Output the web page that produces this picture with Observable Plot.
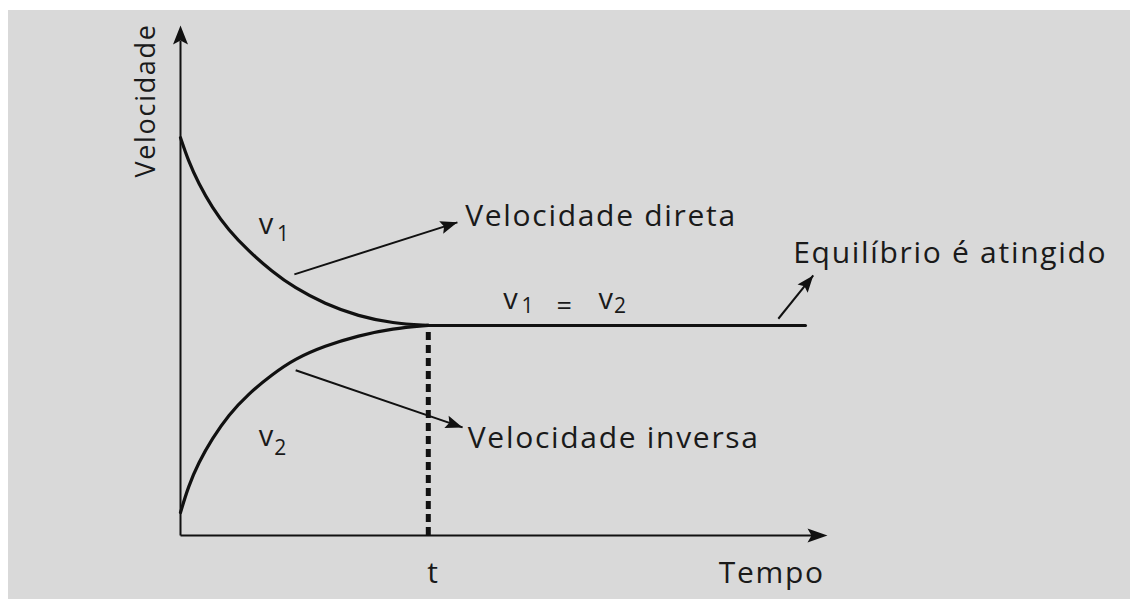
<!DOCTYPE html>
<html>
<head>
<meta charset="utf-8">
<script src="https://cdn.jsdelivr.net/npm/d3@7"></script>
<script src="https://cdn.jsdelivr.net/npm/@observablehq/plot@0.6"></script>
<style>
  html, body { margin: 0; padding: 0; background: #ffffff; }
  #chart { position: absolute; left: 8px; top: 10px; width: 1122px; height: 589px; background: #d9d9d9; }
  #chart svg text { letter-spacing: 1.7px; }
</style>
</head>
<body>
<div id="chart"></div>
<script>
// ---- data ----
const time = [0, 1.2, 2.8, 4.9, 7.4, 10.5, 14.2, 17.6, 22.3, 27.5, 32.8, 38.3];
const v1 = [78.0, 73.5, 69.0, 64.3, 59.9, 55.8, 51.7, 48.6, 45.4, 43.0, 41.6, 41.2];
const v2 = [4.5, 9.6, 14.3, 19.0, 23.6, 27.8, 31.6, 34.6, 37.2, 39.2, 40.6, 41.2];
const equilibriumTime = [38.3, 96.6];
const equilibriumValue = 41.2;
const tEquilibrium = 38.3;

const textLabels = ["Velocidade direta", "Equilíbrio é atingido", "Velocidade inversa", "Tempo"];
const textX = [44.0, 94.7, 44.4, 83.2];
const textY = [60.6, 53.5, 17.1, -9.4];

const varBase = ["v", "v", "v", "v"];
const varSub = ["1", "2", "1", "2"];
const varX = [12.1, 12.1, 49.9, 64.6];
const varY = [59.2, 17.5, 44.5, 44.5];
const subX = [14.9, 14.5, 52.7, 67.0];
const subY = [57.8, 15.7, 43.7, 43.7];

const arrowFrom = [[17.6, 51.2], [17.8, 32.4], [92.4, 42.5]];
const arrowTo = [[42.8, 61.4], [43.6, 21.2], [97.8, 51.0]];

// ---- layout ----
const W = 1122, H = 589;
const mL = 172, mR = 303, mT = 15, mB = 64;
const xDomain = [0, 100], yDomain = [0, 100];
const sx = v => mL + (v - xDomain[0]) / (xDomain[1] - xDomain[0]) * (W - mL - mR);
const sy = v => (H - mB) - (v - yDomain[0]) / (yDomain[1] - yDomain[0]) * (H - mB - mT);

const curveV1 = time.map((t, i) => ({t, v: v1[i]}));
const curveV2 = time.map((t, i) => ({t, v: v2[i]}));
const eqLine = equilibriumTime.map(t => ({t, v: equilibriumValue}));
const texts = textLabels.map((s, i) => ({s, x: textX[i], y: textY[i]}));
const vars = varBase.map((s, i) => ({s, x: varX[i], y: varY[i]}));
const subs = varSub.map((s, i) => ({s, x: subX[i], y: subY[i]}));
const arrows = arrowFrom.map((f, i) => ({x1: f[0], y1: f[1], x2: arrowTo[i][0], y2: arrowTo[i][1]}));

// filled arrowhead symbol with the tip at the origin
function head(x1, y1, x2, y2, len, wid, notch) {
  let dx = sx(x2) - sx(x1), dy = sy(y2) - sy(y1);
  const n = Math.hypot(dx, dy); dx /= n; dy /= n;
  const px = -dy, py = dx;
  return {
    draw(ctx) {
      ctx.moveTo(0, 0);
      ctx.lineTo(-len * dx + wid / 2 * px, -len * dy + wid / 2 * py);
      ctx.lineTo(-(len - notch) * dx, -(len - notch) * dy);
      ctx.lineTo(-len * dx - wid / 2 * px, -len * dy - wid / 2 * py);
      ctx.closePath();
    }
  };
}

const ink = "#111";
const txt = "#1a1a1a";
const marks = [
  // axes
  Plot.link([{x1: 0, y1: 0, x2: 0, y2: 97}, {x1: 0, y1: 0, x2: 98, y2: 0}],
    {x1: "x1", y1: "y1", x2: "x2", y2: "y2", stroke: ink, strokeWidth: 2}),
  Plot.dot([{x: 0, y: 100}], {x: "x", y: "y", fill: ink, stroke: null, symbol: head(0, 0, 0, 100, 19, 15, 4)}),
  Plot.dot([{x: 100, y: 0}], {x: "x", y: "y", fill: ink, stroke: null, symbol: head(0, 0, 100, 0, 20, 14, 4)}),
  // dashed time marker
  Plot.ruleX([tEquilibrium], {y1: 0, y2: equilibriumValue, stroke: ink, strokeWidth: 5, strokeDasharray: "8,5"}),
  // curves
  Plot.line(curveV1, {x: "t", y: "v", curve: "basis", stroke: ink, strokeWidth: 3.2}),
  Plot.line(curveV2, {x: "t", y: "v", curve: "basis", stroke: ink, strokeWidth: 3.2}),
  Plot.line(eqLine, {x: "t", y: "v", stroke: ink, strokeWidth: 3}),
  // annotation arrows
  Plot.link(arrows, {x1: "x1", y1: "y1", x2: "x2", y2: "y2", stroke: ink, strokeWidth: 2}),
  ...arrows.map(a => Plot.dot([a], {x: "x2", y: "y2", fill: ink, stroke: null,
    symbol: head(a.x1, a.y1, a.x2, a.y2, 17, 13, 3)})),
  // texts
  Plot.text(texts, {x: "x", y: "y", text: "s", textAnchor: "start", lineAnchor: "bottom", fontSize: 30, fill: txt}),
  Plot.text([{s: "t", x: 39.1, y: -9.4}], {x: "x", y: "y", text: "s", textAnchor: "middle", lineAnchor: "bottom", fontSize: 30, fill: txt}),
  Plot.text([{s: "Velocidade", x: -3.9, y: 85.3}], {x: "x", y: "y", text: "s", rotate: -90, textAnchor: "middle", lineAnchor: "bottom", fontSize: 27, fill: txt}),
  Plot.text(vars, {x: "x", y: "y", text: "s", textAnchor: "start", lineAnchor: "bottom", fontSize: 29, fill: txt}),
  Plot.text(subs, {x: "x", y: "y", text: "s", textAnchor: "start", lineAnchor: "bottom", fontSize: 21, fill: txt}),
  Plot.text([{s: "=", x: 58.1, y: 43.3}], {x: "x", y: "y", text: "s", textAnchor: "start", lineAnchor: "bottom", fontSize: 27, fill: txt})
];

const chart = Plot.plot({
  width: W, height: H,
  marginLeft: mL, marginRight: mR, marginTop: mT, marginBottom: mB,
  x: {domain: xDomain, axis: null},
  y: {domain: yDomain, axis: null},
  style: {background: "transparent", fontFamily: "'Open Sans', sans-serif", overflow: "visible"},
  marks
});
document.getElementById("chart").appendChild(chart);
</script>
</body>
</html>
